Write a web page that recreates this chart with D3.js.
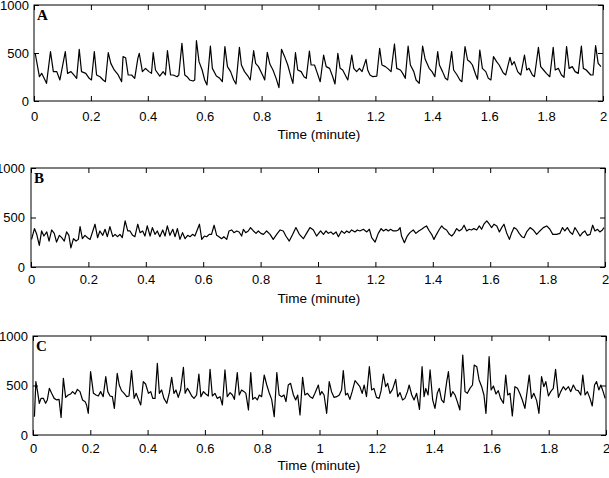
<!DOCTYPE html>
<html>
<head>
<meta charset="utf-8">
<script src="https://cdn.jsdelivr.net/npm/d3@7"></script>
<style>
  body { margin: 0; background: #fff; }
  svg { display: block; }
  .tick text { font-family: "Liberation Sans", Arial, sans-serif; font-size: 13px; fill: #000; }
  .xTitle { font-family: "Liberation Sans", Arial, sans-serif; font-size: 13.5px; fill: #000; }
  .pLabel { font-family: "Liberation Serif", "Times New Roman", serif; font-size: 15px; font-weight: bold; fill: #000; }
</style>
</head>
<body>
<div id="chart"></div>
<script>
// values (time in minutes, signal 0-1000)
var timeA = [0.004,0.019,0.027,0.033,0.044,0.058,0.068,0.080,0.091,0.110,0.118,0.130,0.140,0.150,0.159,0.167,0.182,0.194,0.202,0.212,0.220,0.232,0.243,0.251,0.261,0.270,0.282,0.296,0.308,0.313,0.322,0.331,0.343,0.354,0.365,0.370,0.381,0.392,0.404,0.413,0.419,0.427,0.442,0.454,0.462,0.469,0.480,0.489,0.503,0.509,0.520,0.530,0.538,0.547,0.559,0.565,0.571,0.580,0.591,0.600,0.608,0.620,0.627,0.641,0.653,0.662,0.671,0.680,0.691,0.702,0.710,0.722,0.729,0.740,0.752,0.760,0.772,0.779,0.789,0.805,0.811,0.820,0.829,0.840,0.851,0.861,0.870,0.881,0.892,0.904,0.910,0.919,0.927,0.939,0.949,0.957,0.968,0.974,0.986,0.994,1.006,1.018,1.027,1.039,1.050,1.058,1.068,1.076,1.085,1.094,1.103,1.117,1.124,1.134,1.144,1.153,1.167,1.173,1.181,1.191,1.205,1.215,1.223,1.235,1.243,1.255,1.267,1.275,1.288,1.296,1.305,1.315,1.323,1.335,1.343,1.354,1.366,1.375,1.389,1.399,1.409,1.419,1.425,1.436,1.446,1.454,1.468,1.475,1.487,1.497,1.504,1.515,1.524,1.532,1.541,1.553,1.559,1.567,1.576,1.588,1.597,1.606,1.615,1.626,1.635,1.649,1.658,1.673,1.680,1.688,1.700,1.711,1.724,1.732,1.740,1.752,1.759,1.773,1.781,1.791,1.801,1.813,1.825,1.832,1.843,1.854,1.863,1.872,1.881,1.892,1.902,1.913,1.924,1.931,1.941,1.957,1.965,1.974,1.983,1.993];
var valueA = [500,253,288,253,184,514,306,306,219,514,288,306,271,236,538,306,288,236,219,514,271,253,219,201,503,392,323,271,201,462,451,271,271,236,444,497,306,340,306,288,503,323,260,306,271,524,271,271,253,271,600,271,253,219,208,219,628,410,323,219,167,573,340,260,236,201,566,358,306,219,177,559,375,306,260,219,524,392,358,260,219,507,385,323,236,139,538,462,375,243,184,503,323,306,253,236,521,375,375,306,201,479,358,340,253,177,497,340,323,271,219,479,340,306,340,306,434,323,271,253,260,549,375,358,340,306,594,340,323,288,236,573,375,306,219,184,573,434,340,306,253,514,375,306,236,219,514,323,271,219,201,566,427,410,375,271,226,531,340,306,236,219,462,410,375,295,271,455,375,410,306,271,479,323,340,271,253,559,358,323,288,253,559,323,340,271,247,566,340,358,306,288,573,340,323,271,271,576,392,358];

var timeB = [0.002,0.012,0.020,0.029,0.037,0.045,0.055,0.063,0.072,0.081,0.089,0.099,0.107,0.116,0.124,0.132,0.139,0.148,0.157,0.165,0.171,0.179,0.188,0.197,0.206,0.223,0.232,0.240,0.250,0.258,0.266,0.275,0.285,0.293,0.301,0.310,0.318,0.328,0.337,0.345,0.354,0.362,0.372,0.380,0.389,0.397,0.405,0.415,0.423,0.432,0.440,0.449,0.459,0.467,0.475,0.484,0.494,0.502,0.510,0.519,0.528,0.537,0.546,0.554,0.563,0.571,0.587,0.595,0.604,0.612,0.621,0.629,0.638,0.647,0.655,0.664,0.672,0.682,0.690,0.699,0.707,0.717,0.725,0.734,0.740,0.748,0.757,0.765,0.775,0.784,0.792,0.801,0.810,0.821,0.833,0.844,0.856,0.868,0.879,0.888,0.900,0.912,0.923,0.935,0.949,0.960,0.972,0.984,0.995,1.009,1.019,1.028,1.036,1.045,1.053,1.063,1.071,1.082,1.092,1.100,1.109,1.117,1.129,1.137,1.146,1.158,1.170,1.179,1.187,1.199,1.210,1.220,1.228,1.237,1.245,1.253,1.262,1.272,1.280,1.286,1.291,1.301,1.311,1.320,1.332,1.341,1.351,1.361,1.369,1.378,1.388,1.396,1.404,1.413,1.423,1.431,1.439,1.448,1.458,1.466,1.474,1.483,1.492,1.501,1.509,1.518,1.527,1.535,1.543,1.553,1.562,1.570,1.578,1.588,1.597,1.605,1.613,1.623,1.632,1.640,1.648,1.657,1.667,1.675,1.683,1.692,1.701,1.710,1.718,1.727,1.739,1.750,1.762,1.773,1.785,1.797,1.808,1.818,1.831,1.843,1.852,1.860,1.869,1.878,1.887,1.895,1.903,1.913,1.922,1.930,1.938,1.948,1.957,1.965,1.974,1.982,1.991,1.996];
var valueB = [279,388,330,218,364,313,354,262,374,340,252,320,296,262,354,320,194,286,262,279,408,286,320,296,279,432,296,364,320,381,306,408,306,330,306,330,296,466,364,364,320,306,432,347,364,313,415,313,398,330,364,306,374,313,415,320,381,306,388,279,347,286,320,306,330,313,432,279,313,306,330,330,422,320,306,286,306,279,364,374,347,364,354,313,381,347,364,398,364,340,364,340,330,364,330,279,330,374,364,313,262,330,398,330,286,340,398,374,313,364,330,364,340,354,330,354,306,364,340,364,347,374,354,374,364,381,354,381,296,252,340,388,364,381,364,381,364,364,374,398,313,245,313,347,374,340,364,381,398,415,364,330,279,330,381,415,388,374,330,313,340,388,364,381,422,364,381,374,388,374,415,381,432,466,432,398,432,415,354,398,432,347,279,347,398,381,340,306,296,354,398,374,330,364,398,415,381,330,330,340,398,364,398,354,330,398,364,313,347,364,320,330,422,364,381,354,374,398];

var timeC = [0.005,0.010,0.016,0.022,0.028,0.036,0.044,0.050,0.057,0.065,0.074,0.083,0.091,0.098,0.106,0.114,0.123,0.131,0.138,0.147,0.155,0.164,0.173,0.182,0.187,0.193,0.201,0.211,0.220,0.228,0.236,0.245,0.254,0.261,0.269,0.277,0.284,0.294,0.301,0.309,0.318,0.327,0.335,0.344,0.353,0.360,0.368,0.376,0.385,0.393,0.403,0.411,0.418,0.426,0.434,0.441,0.449,0.457,0.467,0.476,0.484,0.492,0.499,0.507,0.515,0.525,0.531,0.539,0.546,0.554,0.562,0.571,0.579,0.586,0.595,0.603,0.612,0.618,0.626,0.635,0.643,0.653,0.661,0.670,0.678,0.688,0.696,0.703,0.713,0.720,0.728,0.737,0.743,0.752,0.760,0.767,0.775,0.783,0.790,0.798,0.807,0.816,0.825,0.833,0.842,0.851,0.859,0.868,0.876,0.883,0.891,0.899,0.909,0.917,0.924,0.932,0.941,0.949,0.958,0.967,0.976,0.984,0.996,1.002,1.008,1.016,1.025,1.034,1.042,1.051,1.060,1.069,1.077,1.083,1.091,1.098,1.106,1.114,1.124,1.132,1.141,1.149,1.156,1.164,1.174,1.182,1.190,1.199,1.208,1.215,1.223,1.231,1.238,1.246,1.255,1.266,1.273,1.281,1.290,1.298,1.307,1.313,1.322,1.330,1.339,1.349,1.358,1.365,1.371,1.379,1.386,1.395,1.403,1.411,1.418,1.426,1.434,1.444,1.450,1.458,1.465,1.473,1.481,1.490,1.500,1.508,1.516,1.525,1.534,1.540,1.549,1.557,1.566,1.574,1.581,1.592,1.599,1.607,1.616,1.624,1.632,1.642,1.650,1.657,1.665,1.673,1.682,1.691,1.700,1.708,1.717,1.732,1.740,1.748,1.758,1.766,1.775,1.783,1.790,1.799,1.807,1.816,1.824,1.834,1.842,1.851,1.859,1.869,1.877,1.886,1.895,1.903,1.912,1.919,1.927,1.935,1.944,1.952,1.960,1.967,1.975,1.982,1.990,1.997];
var valueC = [185,539,438,320,370,370,320,354,471,421,370,354,360,178,572,380,404,414,438,414,461,438,354,337,303,219,640,421,404,394,438,387,589,438,394,387,269,623,505,448,421,387,394,650,370,421,360,303,539,515,421,438,370,370,724,421,455,370,320,428,582,421,455,380,455,684,421,471,438,394,370,404,616,387,438,414,394,663,394,421,370,387,303,657,387,428,404,360,630,404,455,438,421,253,630,360,380,354,404,387,606,505,421,360,185,630,404,387,404,337,505,522,404,354,404,202,582,404,421,387,370,421,505,404,438,404,219,539,438,380,387,404,455,650,404,421,360,438,549,522,488,421,505,387,690,455,471,380,370,448,616,488,522,421,461,562,387,428,354,370,438,505,404,354,421,259,690,387,471,404,657,354,269,421,471,354,327,539,640,387,438,404,337,253,808,438,421,471,505,707,690,556,488,404,219,791,455,495,414,448,370,320,606,404,421,192,488,471,414,354,269,606,370,421,347,219,589,488,539,394,438,471,663,380,438,488,455,488,438,505,455,448,404,606,404,438,370,293,505,539,455,505,438,370];

var xTicks = [0, 0.2, 0.4, 0.6, 0.8, 1, 1.2, 1.4, 1.6, 1.8, 2];
var yTicks = [0, 500, 1000];
var panelNames = ["A", "B", "C"];
var xTitle = "Time (minute)";

// layout for each panel (pixel box, tick label gaps)
var panels = [
  {name: panelNames[0], t: timeA, v: valueA, left: 34, right: 603, top: 5, bottom: 101, pad: 11, yPad: 5, titleY: 139},
  {name: panelNames[1], t: timeB, v: valueB, left: 31, right: 605, top: 168, bottom: 267, pad: 8, yPad: 6, titleY: 303},
  {name: panelNames[2], t: timeC, v: valueC, left: 33, right: 606, top: 336, bottom: 435, pad: 9, yPad: 5, titleY: 470}
];

var svgWidth = 609;
var svgHeight = 478;

var svg = d3.select("#chart")
  .append("svg")
  .attr("width", svgWidth)
  .attr("height", svgHeight);

panels.forEach(function(p) {
  var width = p.right - p.left;
  var height = p.bottom - p.top;

  var xScale = d3.scaleLinear().domain([0, 2]).range([0, width]);
  var yScale = d3.scaleLinear().domain([0, 1000]).range([height, 0]);

  var g = svg.append("g")
    .attr("transform", `translate(${p.left}, ${p.top})`);

  // signal line
  var pts = p.t.map((d, i) => [d, p.v[i]]);
  var line = d3.line()
    .x(d => xScale(d[0]))
    .y(d => yScale(d[1]));

  g.append("path")
    .datum(pts)
    .attr("d", line)
    .attr("fill", "none")
    .attr("stroke", "#000")
    .attr("stroke-width", 1.2)
    .attr("stroke-linejoin", "round");

  // axes with inward ticks on all four sides
  var bottomAxis = d3.axisBottom(xScale).tickValues(xTicks).tickSizeInner(-5).tickSizeOuter(0)
    .tickPadding(p.pad).tickFormat(d3.format("~g"));
  var topAxis = d3.axisTop(xScale).tickValues(xTicks).tickSizeInner(-5).tickSizeOuter(0).tickFormat("");
  var leftAxis = d3.axisLeft(yScale).tickValues(yTicks).tickSizeInner(-5).tickSizeOuter(0)
    .tickPadding(p.yPad).tickFormat(d3.format("d"));
  var rightAxis = d3.axisRight(yScale).tickValues(yTicks).tickSizeInner(-5).tickSizeOuter(0).tickFormat("");

  [
    g.append("g").attr("transform", `translate(0, ${height})`).call(bottomAxis),
    g.append("g").call(topAxis),
    g.append("g").call(leftAxis),
    g.append("g").attr("transform", `translate(${width}, 0)`).call(rightAxis)
  ].forEach(function(ax) {
    ax.select(".domain").remove();
    ax.selectAll("line").attr("stroke", "#000");
    ax.attr("font-family", null).attr("font-size", null);
  });

  // frame
  g.append("rect")
    .attr("width", width)
    .attr("height", height)
    .attr("fill", "none")
    .attr("stroke", "#000")
    .attr("stroke-width", 1);

  // panel letter
  g.append("text")
    .attr("class", "pLabel")
    .attr("x", 3)
    .attr("y", 15)
    .text(p.name);

  // x axis title
  svg.append("text")
    .attr("class", "xTitle")
    .attr("x", 319)
    .attr("y", p.titleY)
    .attr("text-anchor", "middle")
    .text(xTitle);
});
</script>
</body>
</html>
